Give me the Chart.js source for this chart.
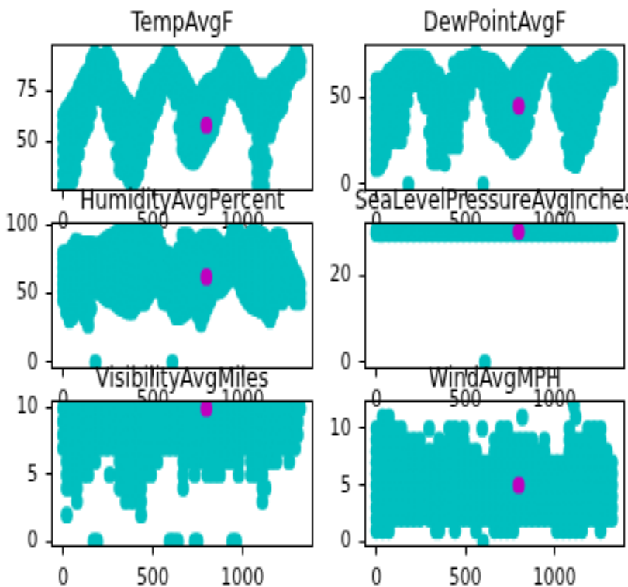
<!DOCTYPE html>
<html>
<head>
<meta charset="utf-8">
<script src="https://cdn.jsdelivr.net/npm/chart.js@4"></script>
<style>
html,body{margin:0;padding:0;background:#fff;width:628px;height:587px;overflow:hidden}
#stage{position:absolute;left:0;top:0;width:405px;height:267px;transform-origin:0 0;transform:scale(1.5506,2.1985)}
canvas{position:absolute}
</style>
</head>
<body>
<div id="stage"></div>
<script>
// Every row is: day index, then the values read at that day.
const tempAvgF=[[0,28,34,40,46,52,58,63],[17,28,66],[35,28,33,39,45,50,56,62,68],[52,31,71],[70,36,42,47,53,58,64,69,73],[87,44,77],[105,51,56,61,66,71,76,80],[122,55,83],[140,58,63,68,73,78,82,85],[157,64,90],[175,71,76,81,86,90,93],[192,74,92],[210,76,80,84,88,91],[227,70,92],[245,63,68,73,78,83,88,93],[262,58,91],[280,54,60,65,70,75,80,84,88],[297,44,82],[315,36,41,47,52,58,63,68,72,76],[332,35,74],[350,34,40,45,51,56,61,66,71],[367,31,69],[385,29,35,41,46,52,57,62,67],[402,31,67],[420,34,39,45,50,55,60,64,68],[437,40,72],[455,46,51,56,61,66,71,77],[472,52,80],[490,59,64,68,73,78,82],[507,63,84],[525,66,70,74,78,81,84],[542,71,87],[560,76,80,84,87,90],[577,78,93],[595,80,84,87,91,94],[612,74,92],[630,69,73,77,81,85,88],[647,57,86],[665,46,51,57,62,67,72,77,81,84],[682,43,81],[700,41,46,52,57,62,67,72,78],[717,40,75],[735,40,45,51,56,61,66,70,73],[752,42,73],[770,45,50,55,60,65,70,74],[787,48,77],[805,51,56,61,66,71,75,79],[822,53,80],[840,56,61,66,71,76,80],[857,61,82],[875,66,70,75,79,83],[892,72,87],[910,77,81,85,88,91],[927,76,93],[945,75,80,84,88,91,94],[962,74,93],[980,73,77,81,85,88,91],[997,70,89],[1015,67,72,76,80,84,87],[1032,62,84],[1050,58,63,68,72,76,80],[1067,44,78],[1085,29,35,40,46,52,57,63,68,72,77],[1102,28,77],[1120,28,34,39,45,51,56,62,67,72,77],[1137,40,77],[1155,53,58,63,68,73,77],[1172,58,80],[1190,63,67,72,77,82],[1207,65,83],[1225,67,72,76,80,84],[1242,73,86],[1260,79,82,85,88],[1277,82,91],[1295,84,88,91,94],[1310,84,93],[1324,85,89,90]];
const dewPointAvgF=[[0,9,14,20,26,32,38,44,50,55,60],[17,10,60],[35,13,19,25,31,37,43,49,55,60],[52,18,62],[70,24,30,36,42,48,54,60,65],[87,25,66],[105,26,32,38,44,50,56,62,68],[122,25,70],[140,25,31,37,43,49,55,61,67,72],[157,32,40,73],[175,48,55,60,65,69,73],[180,0],[192,57,73],[210,59,63,67,70,73],[227,58,73],[245,57,61,65,69,73],[262,51,73],[280,45,51,56,61,66,70,72],[297,30,69],[315,13,19,25,31,37,43,49,54,60,65],[332,13,64],[350,13,20,26,32,38,44,50,56,60,63],[367,18,59],[385,12,24,30,36,42,48,52,55],[402,22,58],[420,22,28,34,40,46,52,56,60],[437,30,69],[455,22,28,34,40,46,52,57,62,66],[472,47,72],[490,41,47,53,58,63,68,72],[507,56,73],[525,53,58,62,67,72],[542,60,74],[560,61,65,68,72,75],[577,60,73],[595,59,63,67,70,72],[600,0],[612,52,72],[630,45,50,55,60,64,68,71],[647,37,71],[665,30,36,42,48,53,58,63,67,70],[682,29,68],[700,29,35,41,46,52,58,62,66],[717,26,63],[735,24,30,36,42,48,54,58,60],[752,21,61],[770,19,25,31,37,43,49,55,62],[787,20,65],[805,22,28,34,40,46,52,58,63,68],[822,25,70],[840,28,34,40,46,52,58,63,68,72],[857,36,74],[875,45,50,56,61,66,71,76],[892,52,77],[910,59,64,68,72,77],[927,64,77],[945,69,73,77],[962,69,77],[980,69,73,77],[997,57,76],[1015,45,51,56,61,66,71,75],[1032,40,74],[1050,35,41,47,53,59,65,72],[1067,24,70],[1085,13,19,25,31,37,43,49,55,61,68],[1102,12,66],[1120,11,17,23,29,35,41,47,53,59,64],[1137,15,65],[1155,21,27,33,39,45,51,57,62,66],[1172,22,67],[1190,24,30,36,42,48,54,60,67],[1207,31,69],[1225,38,44,50,56,61,66,70],[1242,46,72],[1260,53,58,63,68,73],[1277,57,73],[1295,62,66,69,72],[1310,61,71],[1324,61,65,69]];
const humidityAvgPercent=[[0,45,51,57,63,69,75,79],[17,37,80],[35,31,38,45,52,59,66,73,80],[52,33,84],[70,37,44,51,58,65,72,80,88],[87,37,87],[105,37,44,51,58,65,72,79,85],[122,32,86],[140,27,34,41,48,55,62,69,76,82,86],[157,39,86],[175,51,57,63,70,77,85],[180,0],[192,51,85],[210,51,58,65,72,79,86],[227,48,88],[245,46,53,60,67,74,82,90],[262,45,91],[280,45,52,60,67,75,83,92],[297,42,94],[315,40,47,55,62,70,78,87,95],[332,39,98],[350,38,46,54,62,70,78,86,94,100],[367,37,100],[385,37,44,52,60,68,76,84,92,100],[402,40,100],[420,44,51,59,67,75,84,92,100],[437,43,100],[455,43,50,58,66,74,82,91,100],[472,47,99],[490,51,58,65,72,79,86,92,98],[507,55,96],[525,59,65,71,77,83,89,94],[542,51,86],[560,44,51,58,65,72,80],[577,43,79],[595,43,50,57,64,71,78],[610,0],[612,38,74],[630,33,40,48,55,63,71],[647,33,82],[665,34,41,49,57,65,73,82,92],[682,36,92],[700,38,45,53,61,69,77,85,92],[717,39,89],[735,41,48,56,63,71,79,86],[752,34,88],[770,28,36,44,52,60,68,76,84,90],[787,34,91],[805,40,47,55,63,71,79,85,91],[822,45,91],[840,51,57,64,71,78,85,91],[857,51,89],[875,52,59,66,73,80,86],[892,54,83],[910,57,63,69,75,79],[927,60,88],[945,64,70,76,83,89,95],[962,61,95],[980,58,65,72,79,87,95],[997,52,92],[1015,47,54,61,68,75,82,89],[1032,44,91],[1050,41,48,56,64,72,80,87,94],[1067,40,94],[1085,39,47,55,63,71,79,87,94],[1102,38,93],[1120,38,46,54,62,70,78,85,92],[1137,34,89],[1155,31,38,46,54,62,70,78,86],[1172,37,89],[1190,44,51,59,67,75,84,92],[1207,44,92],[1225,44,51,59,67,75,83,91],[1242,48,84],[1260,52,58,64,70,76],[1277,47,71],[1295,44,50,56,61,66],[1310,44,62],[1324,44,50,57]];
const seaLevelPressureAvgInches=[[0,29.6,30.2],[18,29.5,30.1],[35,29.5,30.2],[52,29.6,30.2],[70,29.5,30.1],[88,29.6,30.2],[105,29.5,30.2],[122,29.6,30.1],[140,29.5,30.2],[158,29.6,30.2],[175,29.5,30.1],[192,29.6,30.2],[210,29.5,30.2],[228,29.6,30.1],[245,29.5,30.2],[262,29.6,30.2],[280,29.5,30.2],[298,29.6,30.1],[315,29.5,30.2],[332,29.6,30.2],[350,29.5,30.2],[368,29.6,30.1],[385,29.5,30.2],[402,29.6,30.2],[420,29.5,30.2],[438,29.6,30.1],[455,29.5,30.2],[472,29.6,30.2],[490,29.5,30.1],[508,29.6,30.2],[525,29.5,30.2],[542,29.6,30.1],[560,29.5,30.2],[578,29.6,30.2],[595,29.5,30.1],[610,0],[612,29.6,30.2],[630,29.5,30.2],[648,29.6,30.1],[665,29.5,30.2],[682,29.6,30.2],[700,29.5,30.2],[718,29.6,30.1],[735,29.5,30.2],[752,29.6,30.2],[770,29.5,30.2],[788,29.6,30.1],[805,29.5,30.2],[822,29.6,30.2],[840,29.5,30.1],[858,29.6,30.2],[875,29.5,30.2],[892,29.6,30.1],[910,29.5,30.2],[928,29.6,30.2],[945,29.5,30.1],[962,29.6,30.2],[980,29.5,30.2],[998,29.6,30.1],[1015,29.5,30.2],[1032,29.6,30.2],[1050,29.5,30.2],[1068,29.6,30.1],[1085,29.5,30.2],[1102,29.6,30.2],[1120,29.5,30.2],[1138,29.6,30.1],[1155,29.5,30.2],[1172,29.6,30.2],[1190,29.5,30.1],[1208,29.6,30.2],[1225,29.5,30.2],[1242,29.6,30.1],[1260,29.5,30.2],[1278,29.6,30.2],[1295,29.5,30.1],[1310,29.6,30.2],[1324,29.6,30.1]];
const visibilityAvgMiles=[[0,7,8,9,10],[20,2,4,5,6,7,8,9,10],[50,4,5,6,7,8,9,10],[77,3,4,5,6,7,8,9,10],[110,5,6,7,8,9,10],[140,5,6,7,8,9,10],[170,0],[178,6,7,8,9,10],[190,0],[210,7,8,9,10],[245,7,8,9,10],[260,5],[285,7,8,9,10],[315,4,5,6,7,8,9,10],[350,3,4,5,6,7,8,9,10],[385,3,4,5,6,7,8,9,10],[420,3,4,5,6,7,8,9,10],[435,2,3,4,5,6,7,8,9,10],[455,5,6,7,8,9,10],[490,5,6,7,8,9,10],[525,6,7,8,9,10],[560,7,8,9,10],[595,0,7,8,9,10],[615,0],[630,7,8,9,10],[640,0],[670,4,5,6,7,8,9,10],[700,6,7,8,9,10],[735,0,5,6,7,8,9,10],[750,0],[770,6,7,8,9,10],[805,5,6,7,8,9,10],[840,5,6,7,8,9,10],[875,5,6,7,8,9,10],[910,6,7,8,9,10],[945,0,6,7,8,9,10],[965,0],[980,5,6,7,8,9,10],[1015,7,8,9,10],[1050,5,6,7,8,9,10],[1085,5,6,7,8,9,10],[1113,3,4,5,6,7,8,9,10],[1130,4,6,7,8,9,10],[1155,6,7,8,9,10],[1190,6,7,8,9,10],[1225,7,8,9,10],[1262,6,7,8,9,10],[1295,7,8,9,10],[1310,8,9,10],[1324,10]];
const windAvgMPH=[[0,1,2,3,4,5,6,7,8,9,10],[35,1,2,3,4,5,6,7,8,9,10,11],[70,1,2,3,4,5,6,7,8,9,10,11],[105,2,3,4,5,6,7,8,9,10],[140,2,3,4,5,6,7,8,9,10],[175,2,3,4,5,6,7,8,9],[210,2,3,4,5,6,7,8,9],[245,2,3,4,5,6,7,8,9],[297,2,3,4,5,6,7,8,10],[334,1,2,3,4,5,6,7,8],[353,1,2,3,4,5,6,7,8,9],[385,2,3,4,5,6,7,8],[410,2,3,4,5,6,7,8,9,10],[442,1,2,3,4,5,6,7,8,9,10],[490,2,3,4,5,6,7,8,9,10],[525,2,3,4,5,6,7,8],[560,1,2,3,4,5,6,7,8],[595,2,3,4,5,6,7,10],[600,0],[630,2,3,4,5,6,7],[665,1,2,3,4,5,6,7,8,9],[700,1,2,3,4,5,6,7,8,9,10],[735,1,2,3,4,5,6,7,8,9,10],[770,1,2,3,4,5,6,7,8,9],[805,2,3,4,6,7,8,9],[820,11],[840,2,3,4,5,6,7,8,9],[875,2,3,4,5,6,7,8,9],[910,2,3,4,5,6,7,8],[945,2,3,4,5,6,7,8,9],[980,2,3,4,5,6,7],[1015,1,2,3,4,5,6,7],[1050,1,2,3,4,5,6,7],[1085,1,2,3,4,5,6,7,8,9,10],[1110,12],[1120,1,2,3,4,5,6,7,8,9,11],[1155,1,2,3,4,5,6,7,8,9],[1190,2,3,4,5,6,7,8,9,10],[1225,2,3,4,5,6,7,8,9,10],[1260,1,2,3,4,5,6,7,8,9,10],[1295,2,3,4,5,6,7,8],[1324,2,3,4,5,6,7]];

const titles=['TempAvgF','DewPointAvgF','HumidityAvgPercent','SeaLevelPressureAvgInches','VisibilityAvgMiles','WindAvgMPH'];
const seriesList=[tempAvgF,dewPointAvgF,humidityAvgPercent,seaLevelPressureAvgInches,visibilityAvgMiles,windAvgMPH];
const highlightDay=800;
const highlightValues=[58,45,62,30,10,5];
const xTicks=[0,500,1000];
const yTicks=[[50,75],[0,50],[0,50,100],[0,20],[0,5,10],[0,5,10]];
const yLimits=[[25.5,97.8],[-4,80.7],[-5,101.7],[-1.6,32.2],[-0.45,10.6],[-0.5,12.5]];
const xLimits=[-67,1397];

const FONT='"DejaVu Sans"';
const frame={id:'frame',afterDatasetsDraw(c){const a=c.chartArea,g=c.ctx;g.save();g.strokeStyle='#000';g.lineWidth=1;g.strokeRect(a.left+.5,a.top+.5,a.right-a.left-1,a.bottom-a.top-1);g.restore();}};
const lefts=[0.9,202.7],tops=[-0.2,81,161.5],widths=[233,232];
const stage=document.getElementById('stage');

titles.forEach((title,i)=>{
  const col=i%2,row=Math.floor(i/2);
  const cv=document.createElement('canvas');
  cv.width=widths[col];cv.height=107;
  cv.style.left=lefts[col]+'px';cv.style.top=tops[row]+'px';
  stage.appendChild(cv);
  const points=seriesList[i].flatMap(([day,...ys])=>ys.map(y=>({x:day,y})));
  new Chart(cv,{
    type:'scatter',
    data:{datasets:[
      {data:[{x:highlightDay,y:highlightValues[i]}],backgroundColor:'#BF00BF',borderWidth:0,pointRadius:3.9,clip:0,order:0},
      {data:points,backgroundColor:'#00BFBF',borderWidth:0,pointRadius:3.9,clip:0,order:1}
    ]},
    options:{
      responsive:false,animation:false,events:[],
      layout:{padding:0},
      plugins:{
        legend:{display:false},tooltip:{enabled:false},
        title:{display:true,text:title,color:'#000',font:{family:FONT,size:13,weight:'normal',lineHeight:1.1},padding:{top:3.2,bottom:2.5}}
      },
      scales:{
        x:{type:'linear',min:xLimits[0],max:xLimits[1],
          afterBuildTicks:s=>{s.ticks=xTicks.map(v=>({value:v}));},
          afterFit:s=>{s.height=20;},
          border:{display:false},
          grid:{display:true,drawOnChartArea:false,drawTicks:true,tickLength:3.5,tickColor:'#000',tickWidth:1},
          ticks:{color:'#000',font:{family:FONT,size:11},padding:4.5,maxRotation:0,autoSkip:false,callback:v=>String(v)}},
        y:{type:'linear',position:'left',min:yLimits[i][0],max:yLimits[i][1],
          afterBuildTicks:s=>{s.ticks=yTicks[i].map(v=>({value:v}));},
          afterFit:s=>{s.width=32;},
          border:{display:false},
          grid:{display:true,drawOnChartArea:false,drawTicks:true,tickLength:3.5,tickColor:'#000',tickWidth:1},
          ticks:{color:'#000',font:{family:FONT,size:11},padding:5,autoSkip:false,callback:v=>String(v)}},
        spacer:{axis:'y',type:'linear',position:'right',display:true,
          afterFit:s=>{s.width=32;},
          border:{display:false},grid:{display:false},ticks:{display:false}}
      }
    },
    plugins:[frame]
  });
});
</script>
</body>
</html>
